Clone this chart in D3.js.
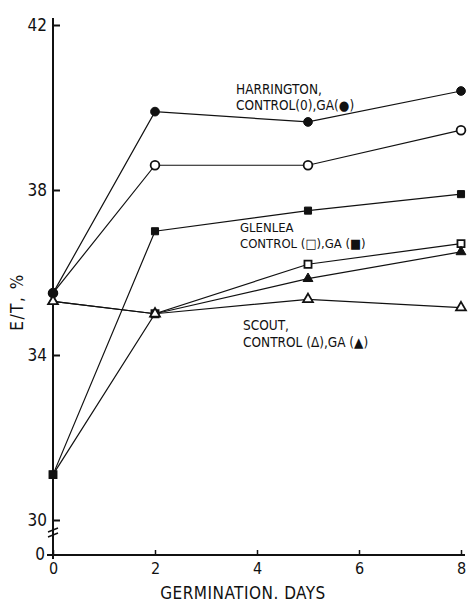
<!DOCTYPE html>
<html>
<head>
<meta charset="utf-8">
<script src="https://cdn.jsdelivr.net/npm/d3@7/dist/d3.min.js"></script>
<style>
  body { margin: 0; background: #fff; }
  svg text { font-family: "DejaVu Sans Condensed", "DejaVu Sans", sans-serif; fill: #111; }
</style>
</head>
<body>
<div id="chart"></div>
<script>
// Germination days and E/T values
const days = [0, 2, 5, 8];
const harringtonGA = [35.5, 39.9, 39.65, 40.4];
const harringtonControl = [35.5, 38.6, 38.6, 39.45];
const glenleaGA = [31.1, 37.0, 37.5, 37.9];
const glenleaControl = [31.1, 35.0, 36.2, 36.7];
const scoutGA = [35.3, 35.0, 35.85, 36.5];
const scoutControl = [35.3, 35.0, 35.35, 35.15];

const yTicks = [30, 34, 38, 42];
const xTicks = [0, 2, 4, 6, 8];

let width = 470, height = 603;

let svg = d3.select("#chart").append("svg")
    .attr("width", width)
    .attr("height", height);

let x = d3.scaleLinear().domain([0, 8]).range([53, 461]);
let y = d3.scaleLinear().domain([30, 42]).range([520, 25]);
let yZero = 555; // position of the broken-axis zero

// series list, drawn in this order (GA markers sit on top at day 0 where they share values)
let series = [
    {values: harringtonControl, shape: "circle", fill: false},
    {values: harringtonGA, shape: "circle", fill: true},
    {values: glenleaControl, shape: "square", fill: false},
    {values: glenleaGA, shape: "square", fill: true},
    {values: scoutGA, shape: "triangle", fill: true},
    {values: scoutControl, shape: "triangle", fill: false}
];

// ---- axes ----
// y axis line, from above 42 down to the zero line
svg.append("line")
    .attr("x1", x(0)).attr("x2", x(0))
    .attr("y1", y(42) - 7).attr("y2", yZero + 4)
    .style("stroke", "#111").style("stroke-width", 2);

let yAxis = svg.append("g")
    .attr("transform", "translate(" + x(0) + ",0)")
    .call(d3.axisLeft(y).tickValues(yTicks).tickSize(-7).tickPadding(6));
yAxis.select(".domain").remove();
yAxis.selectAll(".tick line").style("stroke", "#111").style("stroke-width", 2);
yAxis.selectAll("text").style("font-size", "17px").attr("dy", "0.3em");

// zero tick on the y axis
svg.append("line")
    .attr("x1", x(0) - 6).attr("x2", x(0))
    .attr("y1", yZero).attr("y2", yZero)
    .style("stroke", "#111").style("stroke-width", 2);
svg.append("text")
    .attr("x", x(0) - 8).attr("y", yZero)
    .attr("dy", "0.3em")
    .attr("text-anchor", "end")
    .style("font-size", "17px")
    .text("0");

// axis break marks
[0, 5].forEach(function (o) {
    svg.append("line")
        .attr("x1", x(0) - 5).attr("x2", x(0) + 5)
        .attr("y1", 532 + o).attr("y2", 528 + o)
        .style("stroke", "#111").style("stroke-width", 1.5);
});

// x axis
svg.append("line")
    .attr("x1", x(0) - 2).attr("x2", x(8) + 4)
    .attr("y1", yZero).attr("y2", yZero)
    .style("stroke", "#111").style("stroke-width", 2);

let xAxis = svg.append("g")
    .attr("transform", "translate(0," + yZero + ")")
    .call(d3.axisBottom(x).tickValues(xTicks).tickSize(-5).tickPadding(8));
xAxis.select(".domain").remove();
xAxis.selectAll(".tick line").style("stroke", "#111").style("stroke-width", 1.5);
xAxis.selectAll("text").style("font-size", "16px");

// axis titles
svg.append("text")
    .attr("x", 243).attr("y", 599)
    .attr("text-anchor", "middle")
    .style("font-size", "17px")
    .style("letter-spacing", "0.5px")
    .text("GERMINATION. DAYS");

svg.append("text")
    .attr("transform", "translate(23,302) rotate(-90)")
    .attr("text-anchor", "middle")
    .style("font-size", "17px")
    .style("letter-spacing", "1.5px")
    .text("E/T, %");

// ---- lines ----
let line = d3.line()
    .x(function (d, i) { return x(days[i]); })
    .y(function (d) { return y(d); });

series.forEach(function (s) {
    svg.append("path")
        .datum(s.values)
        .attr("d", line)
        .style("fill", "none")
        .style("stroke", "#111")
        .style("stroke-width", 1.2);
});

// ---- markers ----
let symbolTypes = {circle: d3.symbolCircle, square: d3.symbolSquare, triangle: d3.symbolTriangle};
let symbolSizes = {circle: 60, square: 50, triangle: 42};

series.forEach(function (s) {
    svg.selectAll(null)
        .data(s.values)
        .enter().append("path")
        .attr("transform", function (d, i) {
            return "translate(" + x(days[i]) + "," + y(d) + ")";
        })
        .attr("d", d3.symbol().type(symbolTypes[s.shape]).size(symbolSizes[s.shape]))
        .style("fill", s.fill ? "#111" : "#fff")
        .style("stroke", "#111")
        .style("stroke-width", s.fill ? 1 : 1.8);
});

// ---- in-plot labels ----
let labels = [
    {x: 236, y: 94, gap: 16, size: 13.5, lines: ["HARRINGTON,", "CONTROL(0),GA(\u25CF)"]},
    {x: 240, y: 232, gap: 15.5, size: 13, lines: ["GLENLEA", "CONTROL (\u25A1),GA (\u25A0)"]},
    {x: 243, y: 330, gap: 17, size: 13.5, lines: ["SCOUT,", "CONTROL (\u0394),GA (\u25B2)"]}
];

labels.forEach(function (l) {
    let t = svg.append("text")
        .attr("x", l.x).attr("y", l.y)
        .style("font-size", l.size + "px");
    l.lines.forEach(function (s, i) {
        t.append("tspan")
            .attr("x", l.x)
            .attr("dy", i === 0 ? 0 : l.gap)
            .text(s);
    });
});
</script>
</body>
</html>
